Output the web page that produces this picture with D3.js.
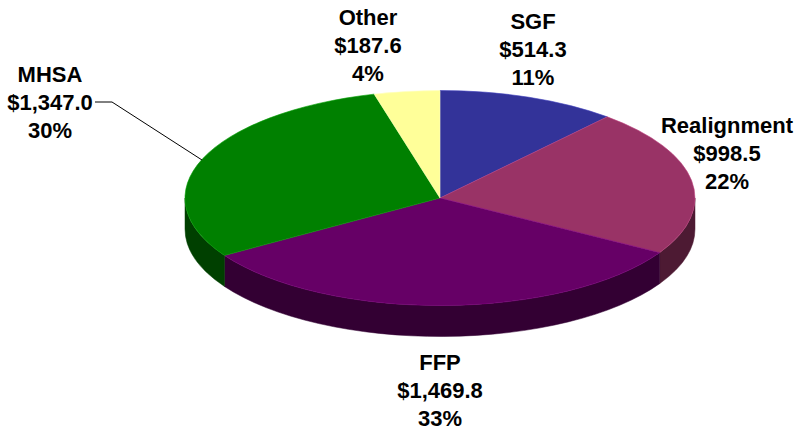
<!DOCTYPE html>
<html>
<head>
<meta charset="utf-8">
<script src="https://cdn.jsdelivr.net/npm/d3@7"></script>
<style>
  html, body { margin: 0; padding: 0; background: #fff; }
  svg { display: block; }
  text { font-family: Arial, "Liberation Sans", sans-serif; font-weight: bold; font-size: 22px; fill: #000; }
</style>
</head>
<body>
<svg id="chart" width="796" height="430"></svg>
<script>
// ---- data ----
const categories = ["SGF", "Realignment", "FFP", "MHSA", "Other"];
const values = [514.3, 998.5, 1469.8, 1347.0, 187.6];
const colors = ["#333399", "#993366", "#660066", "#008000", "#FFFF99"];

// ---- layout ----
const W = 796, H = 430;
const cx = 440, cy = 198, rx = 255, ry = 107.5, depth = 31;
// label centers (x) and first-line baselines (y)
const labelX = [533, 727, 440, 50, 368];
const labelY = [29, 133, 370, 82, 25];
const lineGap = 27.8;

const svg = d3.select("#chart");
const total = d3.sum(values);
const pie = d3.pie().sort(null).value(d => d)(values);

const px = a => cx + rx * Math.sin(a);
const py = (a, dy = 0) => cy - ry * Math.cos(a) + dy;

function topPath(s, e) {
  const large = (e - s) > Math.PI ? 1 : 0;
  return `M${cx},${cy}L${px(s)},${py(s)}A${rx},${ry} 0 ${large} 1 ${px(e)},${py(e)}Z`;
}
function wallPath(s, e) {
  const large = (e - s) > Math.PI ? 1 : 0;
  return `M${px(s)},${py(s)}A${rx},${ry} 0 ${large} 1 ${px(e)},${py(e)}` +
         `L${px(e)},${py(e, depth)}A${rx},${ry} 0 ${large} 0 ${px(s)},${py(s, depth)}Z`;
}
function darken(c, k) {
  const r = d3.rgb(c);
  return d3.rgb(r.r * k, r.g * k, r.b * k).formatHex();
}

// walls (front half only: angles between PI/2 and 3PI/2)
const walls = svg.append("g");
pie.forEach((d, i) => {
  const s = Math.max(d.startAngle, Math.PI / 2);
  const e = Math.min(d.endAngle, 3 * Math.PI / 2);
  if (e > s) {
    walls.append("path").attr("d", wallPath(s, e))
      .attr("fill", darken(colors[i], 0.5))
      .attr("stroke", darken(colors[i], 0.5)).attr("stroke-width", 0.5);
  }
});

// tops
const tops = svg.append("g");
pie.forEach((d, i) => {
  tops.append("path").attr("d", topPath(d.startAngle, d.endAngle))
    .attr("fill", colors[i])
    .attr("stroke", d3.rgb(colors[i]).brighter(0.6).formatHex())
    .attr("stroke-width", 0.6).attr("stroke-linejoin", "round");
});

// leader line for MHSA
svg.append("polyline")
  .attr("points", [[95, 102], [112, 102], [202, 160]].map(p => p.join(",")).join(" "))
  .attr("fill", "none").attr("stroke", "#000").attr("stroke-width", 1);

// labels
const fmt = d3.format("$,.1f");
const lg = svg.append("g");
categories.forEach((c, i) => {
  const lines = [c, fmt(values[i]), Math.round(values[i] / total * 100) + "%"];
  const t = lg.append("text").attr("text-anchor", "middle");
  lines.forEach((l, j) => {
    t.append("tspan").attr("x", labelX[i]).attr("y", labelY[i] + j * lineGap).text(l);
  });
});
</script>
</body>
</html>
